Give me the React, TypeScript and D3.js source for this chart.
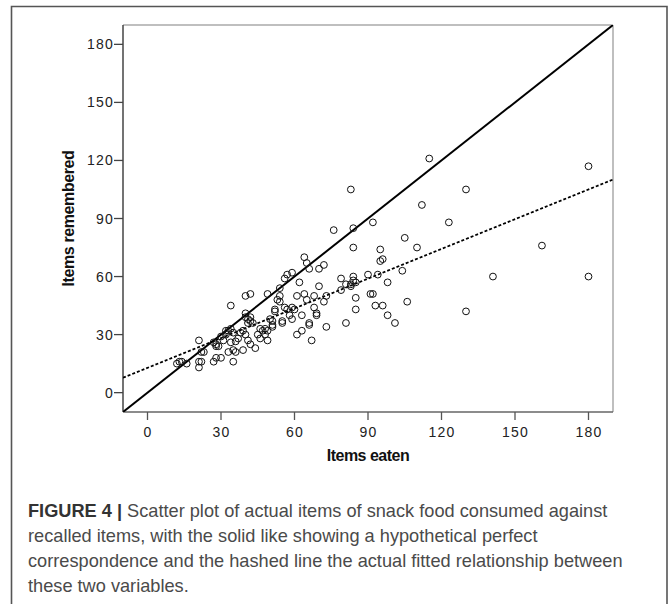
import React from "react";
import * as d3 from "d3";

const eaten = [
  115, 180, 83, 130, 112, 92, 123, 76, 84, 105, 110, 84, 95, 96, 95, 161, 141, 180, 104, 130,
  106, 98, 90, 94, 91, 92, 93, 96, 98, 101, 81, 85, 85, 79, 79, 81, 83, 84, 84, 85,
  83, 72, 70, 64, 65, 66, 59, 57, 56, 62, 70, 54, 68, 64, 65, 61, 73, 72, 68, 69,
  69, 63, 66, 66, 73, 63, 61, 67, 49, 54, 53, 54, 56, 57, 59, 60, 58, 59, 52, 52,
  55, 55, 51, 51, 51, 50, 49, 48, 46, 47, 45, 46, 48, 49, 44, 40, 42, 34, 40, 42,
  41, 42, 43, 41, 40, 39, 40, 38, 37, 36, 34, 41, 42, 39, 34, 33, 35, 32, 32, 30,
  31, 27, 28, 29, 28, 33, 35, 36, 35, 30, 27, 28, 21, 22, 23, 21, 22, 21, 12, 13,
  14, 16,
];
const remembered = [
  121, 117, 105, 105, 97, 88, 88, 84, 85, 80, 75, 75, 74, 69, 68, 76, 60, 60, 63, 42,
  47, 57, 61, 61, 51, 51, 45, 45, 40, 36, 36, 49, 43, 59, 53, 56, 55, 60, 58, 57,
  56, 66, 64, 70, 67, 64, 62, 61, 59, 57, 55, 54, 50, 51, 48, 50, 50, 47, 44, 41,
  40, 40, 36, 35, 34, 32, 30, 27, 51, 50, 48, 47, 44, 43, 44, 43, 40, 38, 43, 42,
  37, 36, 37, 35, 34, 38, 32, 33, 33, 32, 30, 28, 30, 27, 23, 50, 51, 45, 41, 39,
  38, 37, 36, 36, 39, 32, 30, 31, 28, 26.5, 26, 27, 25, 22, 33, 32, 31, 32, 30, 29,
  27, 26, 25, 24, 24, 21, 22, 21, 16, 18, 16, 18, 27, 21, 21, 16, 16, 13, 15, 16,
  16, 15,
];
const xTicks = [0, 30, 60, 90, 120, 150, 180];
const yTicks = [0, 30, 60, 90, 120, 150, 180];
const domain = [-10, 190];
const xTitle = "Items eaten";
const yTitle = "Items remembered";
const captionBold = "FIGURE 4 |";
const captionLines = [
  " Scatter plot of actual items of snack food consumed against",
  "recalled items, with the solid like showing a hypothetical perfect",
  "correspondence and the hashed line the actual fitted relationship between",
  "these two variables.",
];

export default function App() {
  const left = 123, right = 613, top = 25, bottom = 412;
  const x = d3.scaleLinear().domain(domain).range([left, right]);
  const y = d3.scaleLinear().domain(domain).range([bottom, top]);

  const pts = eaten.map((e, i) => [e, remembered[i]] as [number, number]);
  const mx = d3.mean(eaten)!;
  const my = d3.mean(remembered)!;
  const sxy = d3.sum(pts, (p) => (p[0] - mx) * (p[1] - my));
  const sxx = d3.sum(pts, (p) => (p[0] - mx) ** 2);
  const slope = sxy / sxx;
  const intercept = my - slope * mx;

  const line = d3.line<[number, number]>().x((d) => x(d[0])).y((d) => y(d[1]));
  const identity: [number, number][] = [[domain[0], domain[0]], [domain[1], domain[1]]];
  const fit: [number, number][] = domain.map((v) => [v, intercept + slope * v] as [number, number]);

  const tickFont = { fontFamily: "Liberation Sans, Arial, sans-serif", fontSize: 14, letterSpacing: 1.2, fill: "#222" };

  return (
    <svg width={670} height={604} style={{ position: "absolute", left: 0, top: 0, background: "#fff" }}>
      <rect x={0} y={0} width={670} height={604} fill="#fff" />
      {/* outer box */}
      <path d="M11.5,604 L11.5,6.5 L667,6.5 L667,604" fill="none" stroke="#555" strokeWidth={1.6} />
      <defs>
        <clipPath id="plotclip">
          <rect x={left} y={top} width={right - left} height={bottom - top} />
        </clipPath>
      </defs>
      {/* frame */}
      <line x1={left} y1={top} x2={right} y2={top} stroke="#aaa" strokeWidth={1.5} />
      <line x1={right} y1={top} x2={right} y2={bottom} stroke="#aaa" strokeWidth={1.5} />
      <line x1={left} y1={top} x2={left} y2={bottom} stroke="#444" strokeWidth={1.5} />
      <line x1={left} y1={bottom} x2={right} y2={bottom} stroke="#666" strokeWidth={1.5} />
      {xTicks.map((t) => (
        <g key={"x" + t}>
          <line x1={x(t)} x2={x(t)} y1={bottom} y2={bottom + 8} stroke="#555" strokeWidth={1.3} />
          <text x={x(t) + 0.6} y={437} textAnchor="middle" style={tickFont}>{t}</text>
        </g>
      ))}
      {yTicks.map((t) => (
        <g key={"y" + t}>
          <line x1={left - 9} x2={left} y1={y(t)} y2={y(t)} stroke="#444" strokeWidth={1.3} />
          <text x={left - 9} y={y(t) + 5} textAnchor="end" style={tickFont}>{t}</text>
        </g>
      ))}
      <g clipPath="url(#plotclip)">
        <path d={line(identity)!} fill="none" stroke="#000" strokeWidth={2} />
        <path d={line(fit)!} fill="none" stroke="#000" strokeWidth={1.8} strokeDasharray="3,2" />
        {pts.map((p, i) => (
          <circle key={i} cx={x(p[0])} cy={y(p[1])} r={3.4} fill="none" stroke="#111" strokeWidth={1} />
        ))}
      </g>
      <text x={(left + right) / 2} y={461} textAnchor="middle"
        style={{ fontFamily: "Liberation Sans, Arial, sans-serif", fontWeight: 700, fontSize: 16, letterSpacing: -0.5, fill: "#111" }}>
        {xTitle}
      </text>
      <text transform={`translate(74,${(top + bottom) / 2}) rotate(-90)`} textAnchor="middle"
        style={{ fontFamily: "Liberation Sans, Arial, sans-serif", fontWeight: 700, fontSize: 16, letterSpacing: -0.4, fill: "#111" }}>
        {yTitle}
      </text>
      {captionLines.map((l, i) => (
        <text key={i} x={28} y={517 + i * 25}
          style={{ fontFamily: "Liberation Sans, Arial, sans-serif", fontSize: 18.2, fill: "#4a4a4a" }}>
          {i === 0 ? <tspan style={{ fontWeight: 700, fill: "#333" }}>{captionBold}</tspan> : null}
          {l}
        </text>
      ))}
    </svg>
  );
}
